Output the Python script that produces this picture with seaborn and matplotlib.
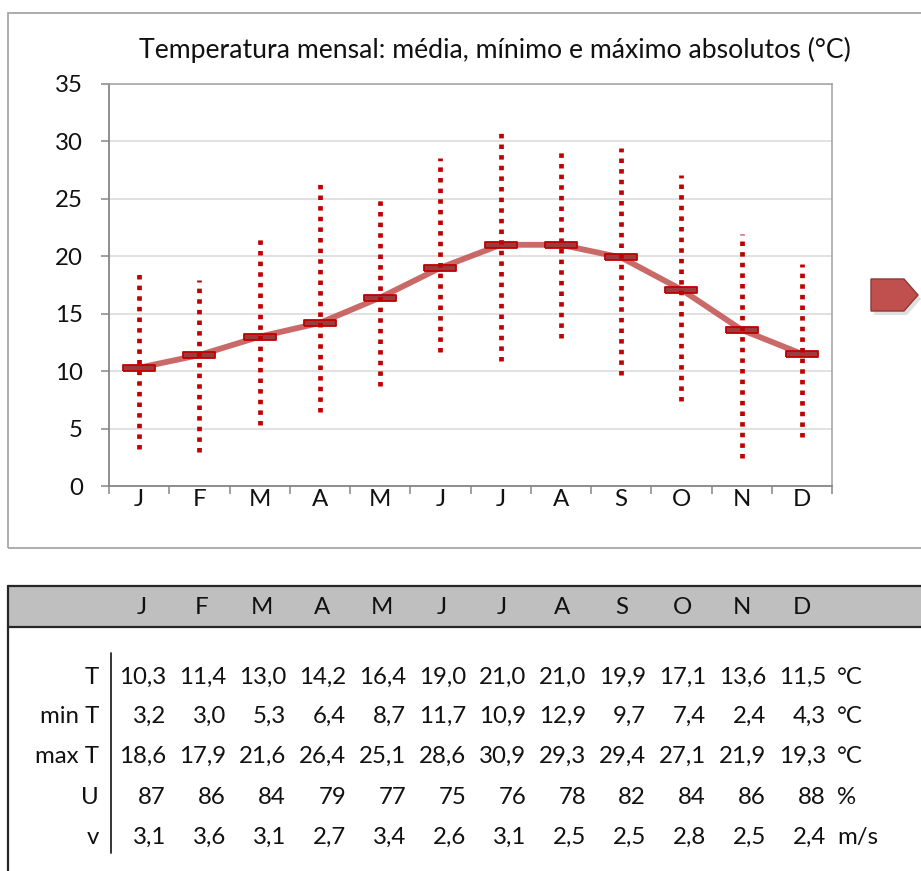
import numpy as np
import pandas as pd
import matplotlib
matplotlib.use("Agg")
import matplotlib.pyplot as plt
import seaborn as sns
from matplotlib.patches import Rectangle, Polygon
from matplotlib.lines import Line2D

# ---------------- data ----------------
months = ['J', 'F', 'M', 'A', 'M', 'J', 'J', 'A', 'S', 'O', 'N', 'D']
t_mean = [10.3, 11.4, 13.0, 14.2, 16.4, 19.0, 21.0, 21.0, 19.9, 17.1, 13.6, 11.5]
t_min = [3.2, 3.0, 5.3, 6.4, 8.7, 11.7, 10.9, 12.9, 9.7, 7.4, 2.4, 4.3]
t_max = [18.6, 17.9, 21.6, 26.4, 25.1, 28.6, 30.9, 29.3, 29.4, 27.1, 21.9, 19.3]
humidity = [87, 86, 84, 79, 77, 75, 76, 78, 82, 84, 86, 88]
wind = [3.1, 3.6, 3.1, 2.7, 3.4, 2.6, 3.1, 2.5, 2.5, 2.8, 2.5, 2.4]
row_labels = ['T', 'min T', 'max T', 'U', 'v']
row_units = ['°C', '°C', '°C', '%', 'm/s']
y_ticks = [0, 5, 10, 15, 20, 25, 30, 35]
title = 'Temperatura mensal: média, mínimo e máximo absolutos (°C)'

# ---------------- style ----------------
sns.set_theme(style="white")
plt.rcParams['font.family'] = ['Lato', 'DejaVu Sans']
TXT = '#111111'
FS = 17.3

W, H = 921, 871
fig = plt.figure(figsize=(W / 100, H / 100), dpi=100)
fig.patch.set_facecolor('white')


def fx(x):
    return x / W


def fy(y):
    return 1 - y / H


# chart frame
fig.patches.append(Rectangle((fx(8), fy(548)), fx(1000), (548 - 13) / H,
                             transform=fig.transFigure, facecolor='none',
                             edgecolor='#A6A6A6', linewidth=1.3, zorder=0))

# axes / plot area
L, R, T_, B = 109, 832, 84, 486
ax = fig.add_axes([fx(L), fy(B), (R - L) / W, (B - T_) / H])
ax.set_facecolor('white')

df = pd.DataFrame({'x': np.arange(len(months)), 'month': months,
                   'mean': t_mean, 'tmin': t_min, 'tmax': t_max})

# mean line
sns.lineplot(data=df, x='x', y='mean', ax=ax, color='#C0504D', alpha=0.85,
             linewidth=4.2, zorder=3, legend=False)
ax.lines[-1].set_solid_capstyle('round')

# mean markers (horizontal dashes)
dash = [(-5, -1.0), (5, -1.0), (5, 1.0), (-5, 1.0), (-5, -1.0)]
ax.plot(df['x'], df['mean'], linestyle='none', marker=dash, markersize=23,
        markerfacecolor='#9B3B3B', markeredgecolor='#C00000',
        markeredgewidth=1.3, zorder=4)

# min-max dotted bars
ax.vlines(df['x'], df['tmin'], df['tmax'], colors='#C00000',
          linewidth=3.4, linestyles=(0, (0.95, 1.3)), zorder=5)
ax.collections[-1].set_capstyle('butt')

ax.set_xlim(-0.5, len(months) - 0.5)
ax.set_ylim(0, 35)
ax.set_yticks(y_ticks)
ax.set_yticklabels([str(v) for v in y_ticks])
ax.set_xticks(df['x'])
ax.set_xticklabels(months)
ax.set_xticks(np.arange(-0.5, len(months), 1), minor=True)
ax.set_xlabel('')
ax.set_ylabel('')

ax.yaxis.grid(True, color='#D9D9D9', linewidth=1.1)
ax.set_axisbelow(True)
ax.tick_params(axis='y', which='major', length=5.8, width=1.1, color='#868686',
               direction='out', pad=13, labelsize=FS, labelcolor=TXT, left=True)
ax.tick_params(axis='x', which='major', length=0, pad=2, labelsize=FS,
               labelcolor=TXT)
ax.tick_params(axis='x', which='minor', length=5.8, width=1.1, color='#868686',
               direction='out', bottom=True)
for s in ['left', 'bottom']:
    ax.spines[s].set_color('#868686')
    ax.spines[s].set_linewidth(1.3)
for s in ['top', 'right']:
    ax.spines[s].set_color('#A0A0A0')
    ax.spines[s].set_linewidth(1.1)
    ax.spines[s].set_visible(True)

fig.text(fx(495), fy(50), title, ha='center', va='center', fontsize=19.2,
         color=TXT)

# arrow shape
shadow = Polygon([(fx(874), fy(283)), (fx(907), fy(283)), (fx(921), fy(299)),
                  (fx(907), fy(315)), (fx(874), fy(315))], closed=True,
                 transform=fig.transFigure, facecolor='#000000', alpha=0.12,
                 edgecolor='none', zorder=1)
arrow = Polygon([(fx(871), fy(279)), (fx(904), fy(279)), (fx(918), fy(295)),
                 (fx(904), fy(311)), (fx(871), fy(311))], closed=True,
                transform=fig.transFigure, facecolor='#C0504D',
                edgecolor='#8C3836', linewidth=1.0, zorder=2)
fig.patches.extend([shadow, arrow])

# ---------------- table ----------------
fig.patches.append(Rectangle((fx(8), fy(627)), fx(1000), (627 - 586) / H,
                             transform=fig.transFigure, facecolor='#BFBFBF',
                             edgecolor='none', zorder=0))
fig.lines.append(Line2D([fx(8), 1.0], [fy(586), fy(586)], transform=fig.transFigure,
                        color='#262626', linewidth=1.6))
fig.lines.append(Line2D([fx(8), 1.0], [fy(627), fy(627)], transform=fig.transFigure,
                        color='#262626', linewidth=1.6))
fig.lines.append(Line2D([fx(8), fx(8)], [fy(586), 0.0], transform=fig.transFigure,
                        color='#262626', linewidth=1.6))
fig.lines.append(Line2D([fx(111), fx(111)], [fy(653), fy(853)],
                        transform=fig.transFigure, color='#262626', linewidth=1.3))

for i, m in enumerate(months):
    fig.text(fx(142 + 60 * i), fy(608), m, ha='center', va='center',
             fontsize=FS, color=TXT)

fmt1 = lambda v: f"{v:.1f}".replace('.', ',')
rows = [[fmt1(v) for v in t_mean], [fmt1(v) for v in t_min],
        [fmt1(v) for v in t_max], [str(v) for v in humidity],
        [fmt1(v) for v in wind]]
row_y = [677, 716, 756, 797, 837]
for label, unit, vals, yy in zip(row_labels, row_units, rows, row_y):
    fig.text(fx(99), fy(yy), label, ha='right', va='center', fontsize=FS,
             color=TXT)
    for i, v in enumerate(vals):
        fig.text(fx(166 + 60 * i), fy(yy), v, ha='right', va='center',
                 fontsize=FS, color=TXT)
    fig.text(fx(837), fy(yy), unit, ha='left', va='center', fontsize=FS,
             color=TXT)

fig.savefig('out.png', dpi=100, facecolor='white')
